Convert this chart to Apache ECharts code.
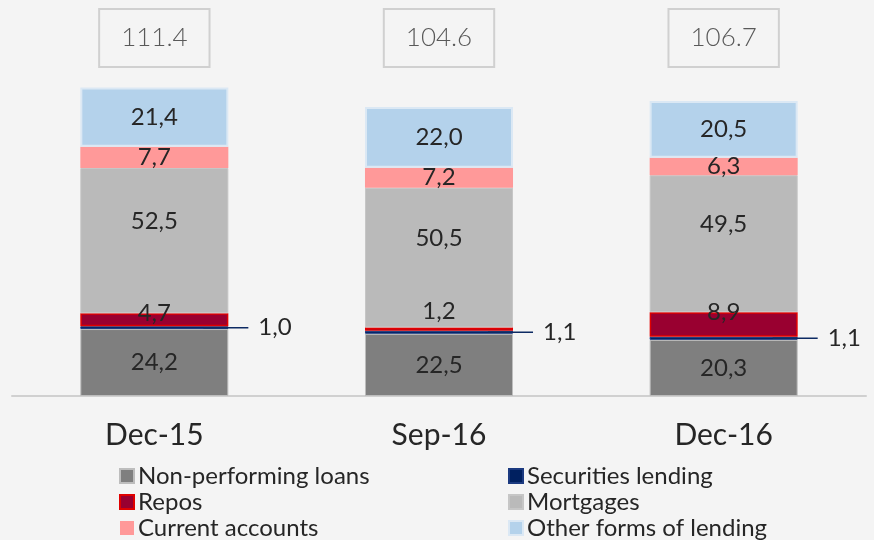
<!DOCTYPE html>
<html>
<head>
<meta charset="utf-8">
<style>
  html, body { margin: 0; padding: 0; background: #f4f4f4; }
  #chart { width: 874px; height: 540px; }
</style>
<script src="https://cdn.jsdelivr.net/npm/echarts@6/dist/echarts.min.js"></script>
</head>
<body>
<div id="chart"></div>
<script>
// data
const categories = ['Dec-15', 'Sep-16', 'Dec-16']
const totals = ['111.4', '104.6', '106.7']
const nonPerforming = [24.2, 22.5, 20.3]
const securities = [1.0, 1.1, 1.1]
const repos = [4.7, 1.2, 8.9]
const mortgages = [52.5, 50.5, 49.5]
const currentAccounts = [7.7, 7.2, 6.3]
const otherLending = [21.4, 22.0, 20.5]

const FONT = 'Lato'
const TEXT = '#262626'
const fmt = v => v.toFixed(1).replace('.', ',')

const baseLabel = {
  show: true,
  position: 'inside',
  color: TEXT,
  fontFamily: FONT,
  fontSize: 24,
  formatter: p => fmt(p.value)
}

function barSeries(name, data, color, borderColor, borderWidth, label) {
  return {
    name,
    type: 'bar',
    stack: 'total',
    barWidth: '52%',
    data,
    itemStyle: { color, borderColor, borderWidth },
    label: { ...baseLabel, ...label },
    emphasis: { disabled: true }
  }
}

const legendStyle = {
  orient: 'vertical',
  top: 464,
  height: 80,
  padding: 0,
  icon: 'rect',
  itemWidth: 14,
  itemHeight: 14,
  itemGap: 2,
  selectedMode: false,
  textStyle: { fontFamily: FONT, fontSize: 24, color: TEXT, padding: [0, 0, 0, -1] }
}

const chart = echarts.init(document.getElementById('chart'))

chart.setOption({
  backgroundColor: '#f4f4f4',
  animation: false,
  grid: { left: 12, right: 8, top: 64, bottom: 144 },
  legend: [
    { ...legendStyle, left: 119, data: ['Non-performing loans', 'Repos', 'Current accounts'] },
    { ...legendStyle, left: 508, data: ['Securities lending', 'Mortgages', 'Other forms of lending'] }
  ],
  xAxis: [
    {
      type: 'category',
      data: categories,
      axisLine: { lineStyle: { color: '#d0d0d0', width: 2 } },
      axisTick: { show: false },
      axisLabel: { fontFamily: FONT, fontSize: 30, color: TEXT, margin: 24 }
    },
    {
      // totals shown in boxes above the bars
      type: 'category',
      position: 'top',
      data: totals,
      axisLine: { show: false },
      axisTick: { show: false },
      axisLabel: {
        fontFamily: FONT,
        fontWeight: 300,
        fontSize: 26,
        color: '#595959',
        borderColor: '#d0d0d0',
        borderWidth: 2,
        padding: [16, 22],
        margin: -3
      }
    }
  ],
  yAxis: { type: 'value', min: 0, max: 120, show: false },
  series: [
    barSeries('Non-performing loans', nonPerforming, '#7f7f7f', '#bdbdbd', 1),
    barSeries('Securities lending', securities, '#002060', '#1b3a80', 1, {
      position: 'right',
      distance: 5,
      offset: [-30, 0],
      formatter: p => '{l|}{t|' + fmt(p.value) + '}',
      rich: {
        l: { width: 45, height: 1.5, backgroundColor: '#0d2a63' },
        t: { padding: [0, 0, 0, 10], fontSize: 24, color: TEXT, fontFamily: FONT }
      }
    }),
    barSeries('Repos',
      repos.map((v, i) => (i === 1 ? { value: v, label: { offset: [0, -16] } } : v)),
      '#990030', '#e00000', 1.5, { position: 'top', distance: -12 }),
    barSeries('Mortgages', mortgages, '#bababa', '#c6c6c6', 1, { offset: [0, -19] }),
    barSeries('Current accounts', currentAccounts, '#ff9999', '#ff9999', 0),
    barSeries('Other forms of lending', otherLending, '#b4d2eb', '#dbe8f4', 2)
  ]
})
</script>
</body>
</html>
